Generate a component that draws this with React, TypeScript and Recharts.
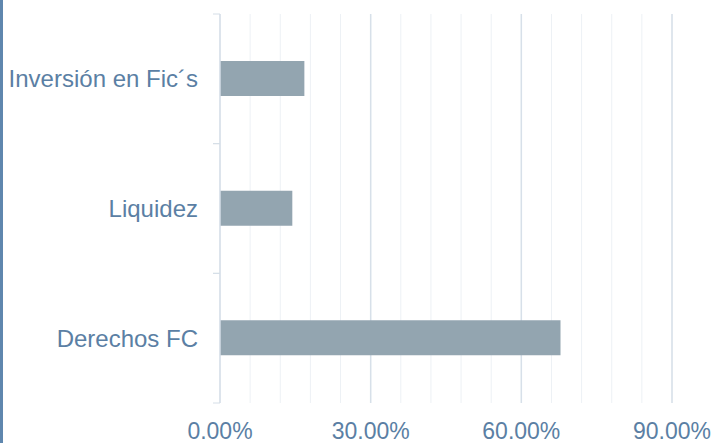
import React from "react";
import { BarChart, Bar, XAxis, YAxis, CartesianGrid } from "recharts";

const categories = ["Inversión en Fic´s", "Liquidez", "Derechos FC"];
const shares = [16.8, 14.4, 67.8];
const labelTicks = [0, 30, 60, 90];
const gridTicks = [0, 6, 12, 18, 24, 30, 36, 42, 48, 54, 60, 66, 72, 78, 84, 90];
const xDomain = [0, 90];

const data = categories.map((name, i) => ({ name, value: shares[i] }));

const textColor = "#5b7fa4";
const axisColor = "#d5dee7";
const font = "Arial, 'Liberation Sans', sans-serif";
const yTickMargin = 22;
const yTickLen = 7;

const XTick = (props: any) => {
  const { x, y, payload } = props;
  if (!labelTicks.includes(payload.value)) return <g />;
  return (
    <text x={x} y={y} dy="0.71em" textAnchor="middle" fill={textColor} fontSize={23} fontFamily={font}>
      {`${payload.value.toFixed(2)}%`}
    </text>
  );
};

// category label plus the tick marks at the band edges (Excel style)
const YTick = (props: any) => {
  const { x, y, payload } = props;
  const half = payload.offset || 0;
  const ax = x + yTickMargin;
  return (
    <g>
      <line x1={ax - yTickLen} x2={ax} y1={y - half} y2={y - half} stroke={axisColor} />
      <line x1={ax - yTickLen} x2={ax} y1={y + half} y2={y + half} stroke={axisColor} />
      <text x={x} y={y} dy="0.355em" textAnchor="end" fill={textColor} fontSize={24} fontFamily={font}>
        {payload.value}
      </text>
    </g>
  );
};

// major grid lines at the labelled ticks
const majorLines = (props: any) => {
  const scale = props.xAxis && props.xAxis.scale;
  const off = props.offset || {};
  return labelTicks.slice(1).map((v) => {
    if (typeof scale === "function") return scale(v);
    if (scale && typeof scale.map === "function") return scale.map(v);
    return off.left + ((v - xDomain[0]) / (xDomain[1] - xDomain[0])) * off.width;
  });
};

export default function App() {
  return (
    <div style={{ position: "absolute", left: 0, top: 0, width: 717, height: 443, background: "#fff" }}>
      <div style={{ position: "absolute", left: 0, top: 0, width: 3, height: 443, background: "#5f87ae" }} />
      <BarChart
        width={717}
        height={443}
        data={data}
        layout="vertical"
        margin={{ top: 14, right: 45, left: 0, bottom: 0 }}
      >
        <CartesianGrid vertical horizontal={false} stroke="#edf1f5" />
        <CartesianGrid
          vertical
          horizontal={false}
          stroke="#d7e0e9"
          strokeWidth={1.5}
          verticalCoordinatesGenerator={majorLines}
        />
        <XAxis
          type="number"
          domain={xDomain}
          ticks={gridTicks}
          interval={0}
          height={40}
          axisLine={false}
          tickLine={false}
          tickSize={0}
          tickMargin={20}
          tick={<XTick />}
        />
        <YAxis
          type="category"
          dataKey="name"
          width={220}
          axisLine={{ stroke: axisColor, strokeWidth: 1.5 }}
          tickLine={false}
          tickSize={0}
          tickMargin={yTickMargin}
          tick={<YTick />}
        />
        <Bar dataKey="value" fill="#93a5b0" barSize={35} isAnimationActive={false} />
      </BarChart>
    </div>
  );
}
